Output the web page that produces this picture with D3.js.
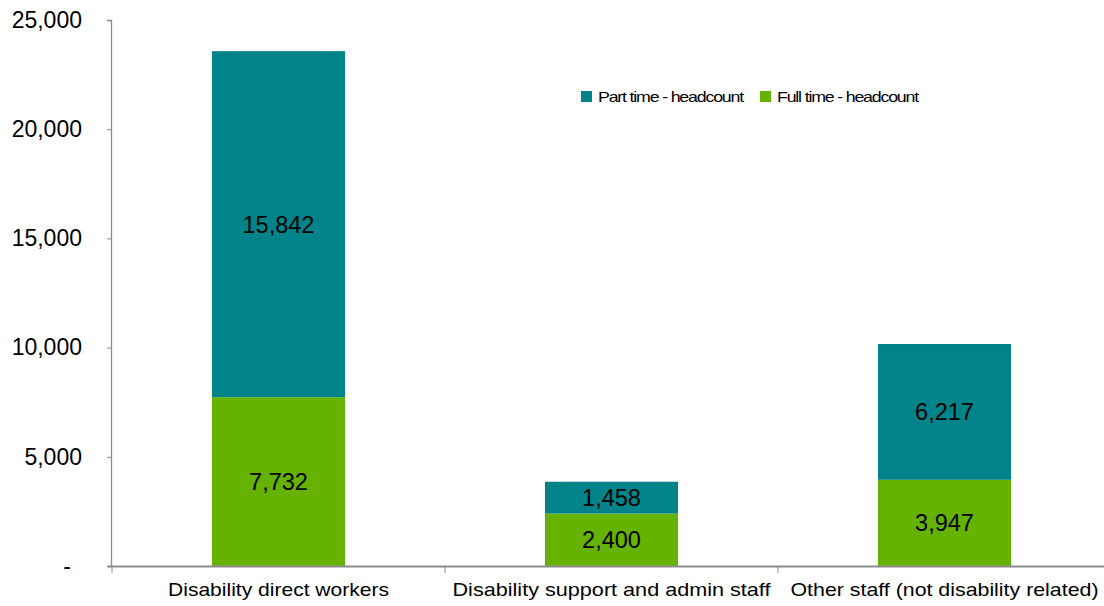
<!DOCTYPE html>
<html>
<head>
<meta charset="utf-8">
<script src="https://cdn.jsdelivr.net/npm/d3@7"></script>
<style>
  html, body { margin: 0; padding: 0; background: #fff; }
  svg { display: block; font-family: "Liberation Sans", Arial, sans-serif; }
</style>
</head>
<body>
<svg id="chart" width="1104" height="606"></svg>
<script>
// Headcount by staff type, split into full time and part time
const categories = ["Disability direct workers", "Disability support and admin staff", "Other staff (not disability related)"];
const fullTime = [7732, 2400, 3947];
const partTime = [15842, 1458, 6217];
const yTicks = [0, 5000, 10000, 15000, 20000, 25000];
const seriesNames = ["Part time - headcount", "Full time - headcount"];

const colors = { full: "#66b200", part: "#008489" };
const axisColor = "#8c8c8c";
const fontFamily = '"Liberation Sans", Arial, sans-serif';

const svg = d3.select("#chart");
const margin = { left: 112, right: 1111, top: 20, bottom: 566 };

const x = d3.scaleBand().domain(categories).range([margin.left, margin.right]).paddingInner(0).paddingOuter(0);
const y = d3.scaleLinear().domain([0, 25000]).range([margin.bottom, margin.top]);
const barW = 133;

const rows = categories.map((c, i) => ({ cat: c, full: fullTime[i], part: partTime[i] }));
const stack = d3.stack().keys(["full", "part"])(rows);

// Bars
stack.forEach(layer => {
  svg.append("g").selectAll("rect").data(layer).join("rect")
    .attr("x", d => x(d.data.cat) + x.bandwidth() / 2 - barW / 2)
    .attr("width", barW)
    .attr("y", d => y(d[1]))
    .attr("height", d => y(d[0]) - y(d[1]))
    .attr("fill", colors[layer.key]);
});

// Value labels in the middle of each segment
stack.forEach(layer => {
  svg.append("g").selectAll("text").data(layer).join("text")
    .attr("x", d => x(d.data.cat) + x.bandwidth() / 2)
    .attr("y", d => (y(d[0]) + y(d[1])) / 2)
    .attr("dy", "0.36em")
    .attr("text-anchor", "middle")
    .attr("font-size", 23.5)
    .attr("fill", "#000")
    .text(d => d3.format(",")(d.data[layer.key]));
});

// Y axis
const yAxis = d3.axisLeft(y).tickValues(yTicks).tickSize(4).tickPadding(25)
  .tickFormat(d => d === 0 ? "-" : d3.format(",")(d));
const gy = svg.append("g").attr("transform", `translate(${margin.left - 1},0)`).call(yAxis);
gy.select(".domain").attr("stroke", axisColor).attr("stroke-width", 1.3);
gy.selectAll(".tick line").attr("stroke", axisColor);
gy.selectAll(".tick text").attr("font-size", 23).attr("fill", "#000").attr("font-family", fontFamily);
gy.selectAll(".tick text").filter(d => d === 0).attr("dx", -11);

// X axis
const labelWidths = [221, 318, 308];
const xAxis = d3.axisBottom(x).tickSize(0).tickPadding(17);
const gx = svg.append("g").attr("transform", `translate(0,${margin.bottom})`).call(xAxis);
gx.select(".domain").attr("d", `M${margin.left - 4},0.5H1104`).attr("stroke", axisColor).attr("stroke-width", 2);
gx.selectAll(".tick text").attr("font-size", 18.5).attr("fill", "#000").attr("font-family", fontFamily)
  .attr("textLength", (d, i) => labelWidths[i]).attr("lengthAdjust", "spacingAndGlyphs");
// Category boundary ticks
svg.append("g").selectAll("line").data(categories).join("line")
  .attr("x1", d => x(d)).attr("x2", d => x(d))
  .attr("y1", margin.bottom).attr("y2", margin.bottom + 7)
  .attr("stroke", axisColor).attr("stroke-width", 1);

// Legend
const legend = svg.append("g");
const legendItems = [
  { name: seriesNames[0], color: colors.part, x: 581, len: 145 },
  { name: seriesNames[1], color: colors.full, x: 760, len: 141 }
];
legendItems.forEach(it => {
  legend.append("rect").attr("x", it.x).attr("y", 91).attr("width", 11).attr("height", 11).attr("fill", it.color);
  legend.append("text").attr("x", it.x + 17).attr("y", 97).attr("dy", "0.36em")
    .attr("font-size", 15).attr("textLength", it.len).attr("lengthAdjust", "spacingAndGlyphs")
    .attr("letter-spacing", -1)
    .text(it.name);
});
</script>
</body>
</html>
